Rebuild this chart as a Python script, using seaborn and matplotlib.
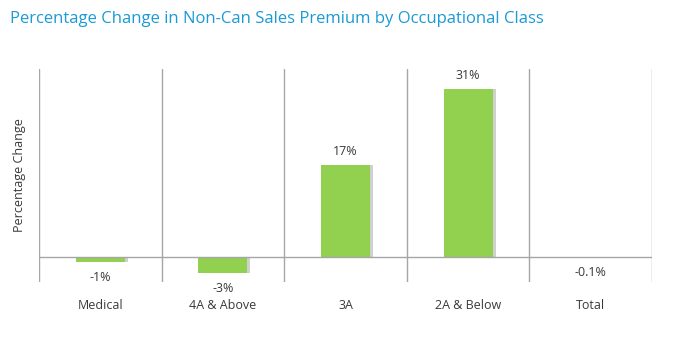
import matplotlib
matplotlib.use("Agg")
import matplotlib.pyplot as plt
import seaborn as sns
import pandas as pd
import numpy as np

categories = ["Medical", "4A & Above", "3A", "2A & Below", "Total"]
values = [-1, -3, 17, 31, -0.1]
labels = ["-1%", "-3%", "17%", "31%", "-0.1%"]

sns.set_theme(style="white")
plt.rcParams["font.family"] = ["Open Sans", "DejaVu Sans"]

df = pd.DataFrame({"cat": categories, "val": values})

fig = plt.figure(figsize=(6.74, 3.40), dpi=100)
ax = fig.add_axes([39 / 674, 1 - 282 / 340, (652 - 39) / 674, (282 - 69) / 340])

# soft drop shadow behind each bar
xs = np.arange(len(categories))
for x, v in zip(xs, values):
    ax.bar(x + 0.025, v, width=0.4, bottom=0, color="#d0d0d0", zorder=2,
           linewidth=0)
sns.barplot(data=df, x="cat", y="val", color="#92d050", saturation=1,
            width=0.4, ax=ax, zorder=3, linewidth=0)

ax.set_xlim(-0.5, len(categories) - 0.5)
ax.set_ylim(-4.6, 34.7)

for x in np.arange(-0.5, len(categories), 1.0):
    ax.axvline(x, color="#a6a6a6", lw=1.0, zorder=1)
ax.axhline(0, color="#a6a6a6", lw=1.0, zorder=4)

for s in ax.spines.values():
    s.set_visible(False)
ax.set_yticks([])
ax.set_xticks([])
ax.set_xlabel("")
ax.set_ylabel("Percentage Change", fontsize=9, color="#3a3a3a", labelpad=9)

for x, v, lab in zip(xs, values, labels):
    if v >= 0:
        ax.annotate(lab, (x, v), xytext=(0, 5), textcoords="offset points",
                    ha="center", va="bottom", fontsize=9, color="#3a3a3a")
    else:
        ax.annotate(lab, (x, v), xytext=(0, -6), textcoords="offset points",
                    ha="center", va="top", fontsize=9, color="#3a3a3a")

for x, c in zip(xs, categories):
    ax.annotate(c, (x, 0), xycoords=("data", "axes fraction"),
                xytext=(0, -12), textcoords="offset points",
                ha="center", va="top", fontsize=9, color="#3a3a3a")

fig.text(10 / 674, 1 - 19 / 340, "Percentage Change in Non-Can Sales Premium by Occupational Class",
         fontsize=12, color="#1a9ad6", ha="left", va="center")

fig.savefig("out.png", dpi=100, facecolor="white")
